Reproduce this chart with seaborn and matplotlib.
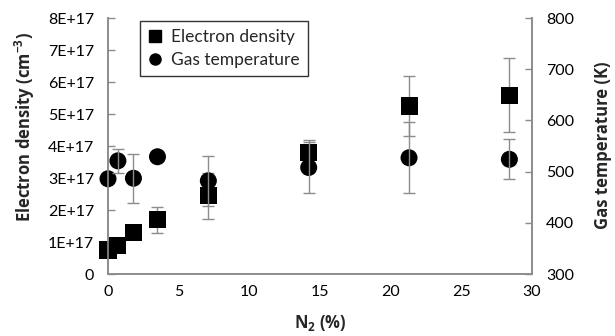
import matplotlib
matplotlib.use("Agg")
import matplotlib.pyplot as plt
from matplotlib.lines import Line2D
import numpy as np
import pandas as pd
import seaborn as sns

# N2 fraction in the gas mixture (%)
n2_pct = [0, 0.7, 1.8, 3.5, 7.1, 14.2, 21.3, 28.4]
# Electron density (units of 1E+17 cm^-3) and its uncertainty
ne_e17 = [0.75, 0.88, 1.30, 1.69, 2.44, 3.80, 5.25, 5.59]
ne_err_e17 = [0, 0, 0, 0.40, 0.72, 0.38, 0.94, 1.16]
# Gas temperature (K) and its uncertainty
tg_k = [486, 521, 487, 529, 482, 508, 527, 524]
tg_err_k = [0, 23, 48, 0, 49, 50, 69, 39]

ne_ticks = [0, 1, 2, 3, 4, 5, 6, 7, 8]
ne_tick_labels = ["0", "1E+17", "2E+17", "3E+17", "4E+17",
                  "5E+17", "6E+17", "7E+17", "8E+17"]
tg_ticks = [300, 400, 500, 600, 700, 800]
x_ticks = [0, 5, 10, 15, 20, 25, 30]

df = pd.DataFrame({"n2": n2_pct, "ne": ne_e17, "ne_err": ne_err_e17,
                   "tg": tg_k, "tg_err": tg_err_k})

sns.set_style("white")
plt.rcParams["font.family"] = ["Lato", "DejaVu Sans"]
plt.rcParams["mathtext.fontset"] = "custom"
plt.rcParams["mathtext.rm"] = "Open Sans:bold"
plt.rcParams["mathtext.default"] = "rm"

GRAY = "#8c8c8c"
FS = 11.5

fig = plt.figure(figsize=(6.15, 3.36), dpi=100)
ax = fig.add_axes([108 / 615, 62 / 336, 424 / 615, 256 / 336])
ax2 = ax.twinx()

# electron density (left axis)
ne_mask = df["ne_err"] > 0
ax.errorbar(df.loc[ne_mask, "n2"], df.loc[ne_mask, "ne"],
            yerr=df.loc[ne_mask, "ne_err"], fmt="none",
            ecolor=GRAY, elinewidth=1.0, capsize=4, capthick=1.0, zorder=2)
sns.scatterplot(data=df, x="n2", y="ne", marker="s", s=150, color="black",
                edgecolor="none", ax=ax, zorder=3, legend=False, clip_on=False)

# gas temperature (right axis)
tg_mask = df["tg_err"] > 0
ax2.errorbar(df.loc[tg_mask, "n2"], df.loc[tg_mask, "tg"],
             yerr=df.loc[tg_mask, "tg_err"], fmt="none",
             ecolor=GRAY, elinewidth=1.0, capsize=4, capthick=1.0, zorder=3)
sns.scatterplot(data=df, x="n2", y="tg", marker="o", s=150, color="black",
                edgecolor="none", ax=ax2, zorder=2, legend=False, clip_on=False)

ax.set_xlim(0, 30)
ax.set_ylim(0, 8)
ax2.set_ylim(300, 800)
ax.set_xticks(x_ticks)
ax.set_yticks(ne_ticks)
ax.set_yticklabels(ne_tick_labels)
ax2.set_yticks(tg_ticks)

for a in (ax, ax2):
    for side in ("left", "right", "bottom", "top"):
        a.spines[side].set_color(GRAY)
        a.spines[side].set_linewidth(1.2)
    a.spines["top"].set_visible(False)
    a.tick_params(direction="in", length=5, width=1.0, color=GRAY,
                  labelsize=FS, labelcolor="black", pad=8)
ax.tick_params(axis="y", pad=10)
ax2.tick_params(axis="y", pad=10)
ax.set_xlabel("")
ax.set_ylabel("")
ax2.set_ylabel("")

title_kw = dict(fontsize=12, fontweight="bold", family=["Open Sans", "DejaVu Sans"])
fig.text(25 / 615, 1 - 127 / 336, "Electron density (cm$^{-3}$)",
         rotation=90, ha="center", va="center", rotation_mode="anchor", **title_kw)
fig.text(603 / 615, 1 - 145 / 336, "Gas temperature (K)",
         rotation=90, ha="center", va="center", rotation_mode="anchor", **title_kw)
fig.text(320 / 615, 1 - 323 / 336, "N$_2$ (%)",
         ha="center", va="center", **title_kw)

handles = [
    Line2D([], [], marker="s", color="black", linestyle="none", markersize=8),
    Line2D([], [], marker="o", color="black", linestyle="none", markersize=8),
]
leg = ax2.legend(handles, ["Electron density", "Gas temperature"],
                 loc="upper left", bbox_to_anchor=(32 / 424, 1 - 3 / 256),
                 borderaxespad=0, frameon=True, fancybox=False, fontsize=12.5,
                 handlelength=0.8, handletextpad=0.55, borderpad=0.45,
                 labelspacing=0.4)
leg.get_frame().set_edgecolor("black")
leg.get_frame().set_linewidth(1.0)

fig.savefig("out.png", dpi=100)
